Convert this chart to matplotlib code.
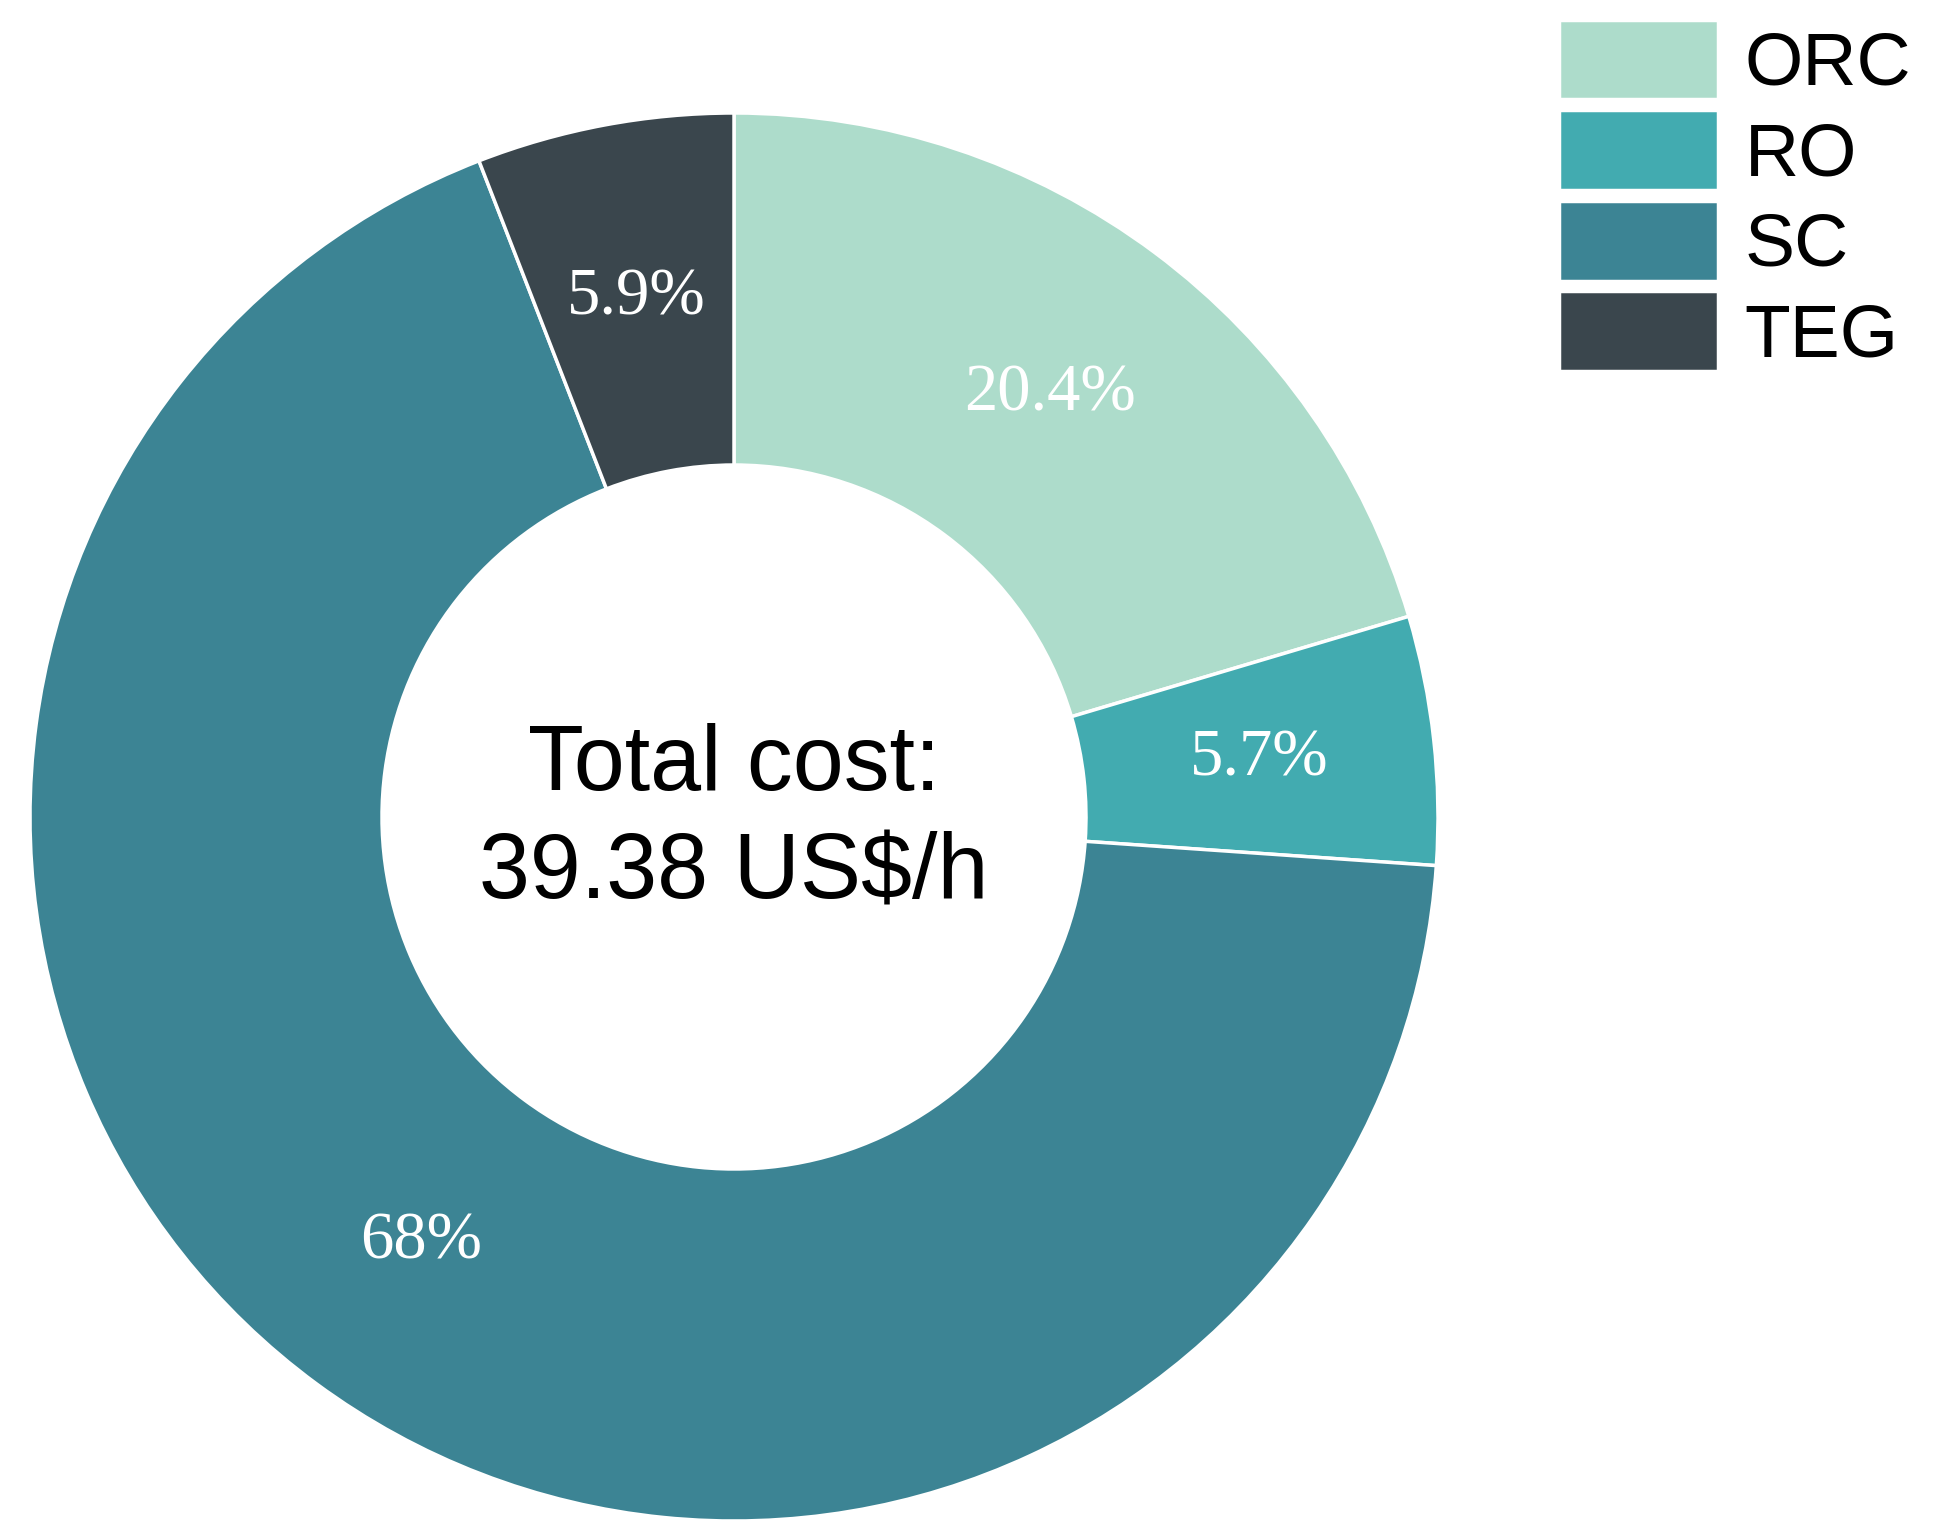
import matplotlib
matplotlib.use("Agg")
import matplotlib.pyplot as plt

# cost share per subsystem (%)
components = ["ORC", "RO", "SC", "TEG"]
shares = [20.4, 5.7, 68.0, 5.9]
colors = ["#ADDCCB", "#42ABB0", "#3C8494", "#3A464D"]
center_text = "Total cost:\n39.38 US$/h"

W, H = 1942, 1535
fig = plt.figure(figsize=(W / 100, H / 100), dpi=100)
ax = fig.add_axes([0, 0, 1, 1])


def fmt_pct(p):
    s = f"{p:.1f}"
    if s.endswith(".0"):
        s = s[:-2]
    return s + "%"


wedges, texts, autotexts = ax.pie(
    shares,
    colors=colors,
    startangle=90,
    counterclock=False,
    radius=704,
    center=(734, H - 817),
    frame=True,
    autopct=fmt_pct,
    pctdistance=0.75,
    wedgeprops=dict(width=352, edgecolor="white", linewidth=2.5),
    textprops=dict(color="white", fontsize=48, family="Liberation Serif"),
)
ax.set_xlim(0, W)
ax.set_ylim(0, H)
ax.set_aspect("equal")
ax.axis("off")

ax.text(734, H - 820, center_text, ha="center", va="center",
        fontsize=66, family="Liberation Sans", linespacing=1.34)

fig.legend(
    wedges, components,
    loc="upper left",
    bbox_to_anchor=(1551 / W, 1 - 12 / H),
    frameon=False,
    prop=dict(family="Liberation Sans", size=54),
    handlelength=2.13,
    handleheight=1.26,
    handletextpad=0.35,
    labelspacing=0.14,
    borderpad=0.1,
    borderaxespad=0,
)

fig.savefig("out.png", dpi=100)
